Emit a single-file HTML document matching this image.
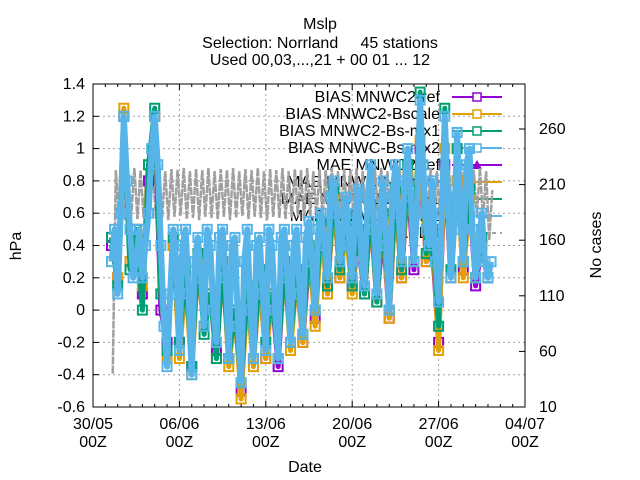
<!DOCTYPE html>
<html><head><meta charset="utf-8"><style>
body{margin:0;background:#fff;}
svg{display:block;font-family:"Liberation Sans",sans-serif;}
</style></head><body>
<svg id="c" width="640" height="480">
<g id="grid"></g>
<g id="legend"></g>
<g id="series"></g>
<g id="axes"></g>
<text x="320" y="29" text-anchor="middle" font-size="16">Mslp</text>
<text x="320" y="48" text-anchor="middle" font-size="16" xml:space="preserve">Selection: Norrland     45 stations</text>
<text x="320" y="65" text-anchor="middle" font-size="16">Used 00,03,...,21 + 00 01 ... 12</text>
<text x="305" y="472" text-anchor="middle" font-size="16">Date</text>
<text transform="translate(21,246) rotate(-90)" text-anchor="middle" font-size="16">hPa</text>
<text transform="translate(601,245) rotate(-90)" text-anchor="middle" font-size="16">No cases</text>
</svg>
<script>
const xTicks=[0,7,14,21,28,35];
const xTickLabels=["30/05","06/06","13/06","20/06","27/06","04/07"];
const yTicks=[-0.6,-0.4,-0.2,0,0.2,0.4,0.6,0.8,1,1.2,1.4];
const y2Ticks=[10,60,110,160,210,260];
const startDay=1.5;
const blue=[0.3,0.5,0.1,0.6, 1.2,0.8,0.5,0.2, 0.3,0.5,0.2,0.4, 0.6,1.0,1.2,0.9, 0.4,-0.1,-0.35,0.1, 0.5,0.3,-0.25,0.4, 0.5,0.1,-0.4,0.3, 0.45,0.2,-0.1,0.5, 0.4,0.0,-0.2,0.45, 0.5,0.2,-0.3,0.4, 0.45,-0.1,-0.45,0.3, 0.5,0.0,-0.3,0.4, 0.45,0.1,-0.25,0.5, 0.4,0.0,-0.3,0.45, 0.5,0.2,-0.2,0.4, 0.5,0.1,-0.15,0.45, 0.55,0.3,0.0,0.5, 0.6,0.4,0.2,0.7, 0.8,0.6,0.3,0.5, 0.7,0.4,0.2,0.6, 0.75,0.3,0.15,0.7, 0.9,0.5,0.1,0.6, 0.8,0.4,0.0,0.7, 0.9,0.6,0.3,0.8, 1.0,0.7,0.3,0.6, 1.3,0.9,0.5,0.4, 0.8,0.3,0.05,0.6, 1.2,0.7,0.2,0.5, 1.1,0.6,0.3,0.9, 1.0,0.5,0.2,0.4, 0.6,0.3,0.2,0.3];
const purple=[0.4,0.2, 1.2,0.3, 0.4,0.1, 0.8,1.2, 0.0,-0.2, 0.4,-0.2, 0.2,-0.35, 0.3,-0.1, 0.1,-0.25, 0.3,-0.3, 0.0,-0.5, 0.1,-0.3, 0.2,-0.3, 0.1,-0.35, 0.3,-0.2, 0.2,-0.2, 0.35,-0.05, 0.5,0.1, 0.7,0.2, 0.5,0.15, 0.4,0.1, 0.6,0.05, 0.5,-0.05, 0.7,0.2, 0.8,0.25, 1.0,0.3, 0.4,-0.2, 0.9,0.2, 0.8,0.25, 0.7,0.15, 0.4,0.2];
const orange=[0.45,0.2, 1.25,0.3, 0.5,0.15, 0.9,1.2, 0.1,-0.3, 0.4,-0.3, 0.2,-0.4, 0.3,-0.1, 0.1,-0.3, 0.3,-0.35, 0.0,-0.55, 0.1,-0.35, 0.2,-0.3, 0.1,-0.3, 0.3,-0.25, 0.2,-0.2, 0.4,-0.1, 0.5,0.1, 0.7,0.2, 0.5,0.1, 0.45,0.1, 0.6,0.05, 0.55,-0.05, 0.7,0.2, 0.85,0.3, 1.05,0.3, 0.5,-0.25, 1.0,0.2, 0.8,0.2, 0.7,0.2, 0.4,0.2];
const green=[0.45,0.15, 1.2,0.25, 0.5,0.0, 0.9,1.25, 0.1,-0.25, 0.45,-0.2, 0.25,-0.35, 0.35,-0.15, 0.1,-0.3, 0.3,-0.3, 0.0,-0.45, 0.15,-0.3, 0.25,-0.2, 0.1,-0.3, 0.3,-0.2, 0.25,-0.15, 0.4,0.0, 0.55,0.15, 0.75,0.25, 0.55,0.15, 0.5,0.1, 0.65,0.05, 0.6,0.0, 0.75,0.25, 0.9,0.3, 1.35,0.35, 0.5,-0.1, 1.25,0.25, 1.0,0.3, 0.75,0.2, 0.45,0.2];
const cases=[40,223,180,224,178,222,182,225,179,223,180,224,181,223,179,225,180,222,178,224,181,223,182,225,179,222,180,224,178,223,181,225,180,222,179,224,181,223,178,225,180,222,182,224,179,223,181,225,180,222,178,224,181,223,180,225,179,222,180,224,182,223,178,225,181,222,179,224,180,223,181,225,178,222,180,224,179,223,182,225,180,222,181,224,178,223,180,225,179,222,182,224,180,223,181,225,178,222,180,224,179,223,181,225,180,222,182,224,178,223,180,225,181,222,179,224,180,223,182,225,178,222,160,205];
const legendLabels=["BIAS MNWC2-ref","BIAS MNWC2-Bscale","BIAS MNWC2-Bs-mx1","BIAS MNWC-Bs-mx2","MAE MNWC2-ref","MAE MNWC2-Bscale","MAE MNWC2-Bs-mx1","MAE MNWC-Bs-mx2","CASES"];
const legendColors=["#9400d3","#e69f00","#009e73","#56b4e9","#9400d3","#e69f00","#009e73","#56b4e9","#a0a0a0"];

const L=93,R=525,T=84,B=407;
const X=d=>L+(d/35)*(R-L);
const Y=v=>B-(v+0.6)/2*(B-T);
const ns="http://www.w3.org/2000/svg";
function mk(p,t,a){const e=document.createElementNS(ns,t);for(const k in a)e.setAttribute(k,a[k]);p.appendChild(e);return e;}
const grid=document.getElementById('grid'),axes=document.getElementById('axes'),ser=document.getElementById('series'),leg=document.getElementById('legend');
const Y2s=v=>B-(v-10)/250*278;
xTicks.forEach((d,i)=>{
 const g=mk(grid,'line',{x1:X(d),x2:X(d),y1:T,y2:B,stroke:'#a0a0a0','stroke-dasharray':'2,3'});
 
 
 const t=mk(axes,'text',{x:X(d),y:429,'text-anchor':'middle','font-size':16});t.textContent=xTickLabels[i];
 
 
 const t2=mk(axes,'text',{x:X(d),y:447,'text-anchor':'middle','font-size':16});t2.textContent="00Z";
 
 
});
for(let d=0;d<=35;d++){const s=d%7==0?6:3;mk(axes,'line',{x1:X(d),x2:X(d),y1:B,y2:B-s,stroke:'#000'});mk(axes,'line',{x1:X(d),x2:X(d),y1:T,y2:T+s,stroke:'#000'});}
yTicks.forEach(v=>{
 const g=mk(grid,'line',{x1:L,x2:R,y1:Y(v),y2:Y(v),stroke:'#a0a0a0','stroke-dasharray':'2,3'});
 
 
 mk(axes,'line',{x1:L,x2:L+6,y1:Y(v),y2:Y(v),stroke:'#000'});
 const t=mk(axes,'text',{x:L-8,y:Y(v)+5,'text-anchor':'end','font-size':16});t.textContent=String(v);
 
 
});
y2Ticks.forEach(v=>{
 mk(axes,'line',{x1:R,x2:R-6,y1:Y2s(v),y2:Y2s(v),stroke:'#000'});
 const t=mk(axes,'text',{x:R+14,y:Y2s(v)+5,'text-anchor':'start','font-size':16});t.textContent=String(v);
 
 
});
const fr=mk(axes,'rect',{x:L,y:T,width:R-L,height:B-T,fill:'none',stroke:'#000'});


legendLabels.forEach((lab,i)=>{
 const y=97+i*17;
 const t=mk(leg,'text',{x:440,y:y+5,'text-anchor':'end','font-size':16});t.textContent=lab;
 
 
 const l=mk(leg,'line',{x1:452,x2:502,y1:y,y2:y,stroke:legendColors[i],'stroke-width':2,'stroke-dasharray':i==8?'4,4':'none'});
 
 
 if(i<4)mk(leg,'rect',{x:473,y:y-4,width:8,height:8,fill:'#fff',stroke:legendColors[i],'stroke-width':1.5});
 else if(i==4)mk(leg,'polygon',{points:`${477},${y-5} ${482},${y+4} ${472},${y+4}`,fill:legendColors[i]});
});
let pc=cases.map((v,i)=>X(startDay+i*0.25+0.1)+','+Y2s(v)).join(' ');
const cl=mk(ser,'polyline',{points:pc,fill:'none',stroke:'#a0a0a0','stroke-width':2.5,'stroke-dasharray':'8,1'});


function draw(arr,step,col,name,w){
 const pts=arr.map((v,i)=>[X(startDay+i*step),Y(v)]);
 const pl=mk(ser,'polyline',{points:pts.map(p=>p.join(',')).join(' '),fill:'none',stroke:col,'stroke-width':w,'stroke-linejoin':'round'});
 
 
 pts.forEach(p=>{mk(ser,'rect',{x:p[0]-4.5,y:p[1]-4.5,width:9,height:9,fill:'none',stroke:col,'stroke-width':2});});
}
draw(purple,0.5,'#9400d3','bias-ref-line',5);
draw(orange,0.5,'#e69f00','bias-bscale-line',5);
draw(green,0.5,'#009e73','bias-bs-mx1-line',5);
draw(blue,0.25,'#56b4e9','bias-bs-mx2-line',6);
</script>
</body></html>
